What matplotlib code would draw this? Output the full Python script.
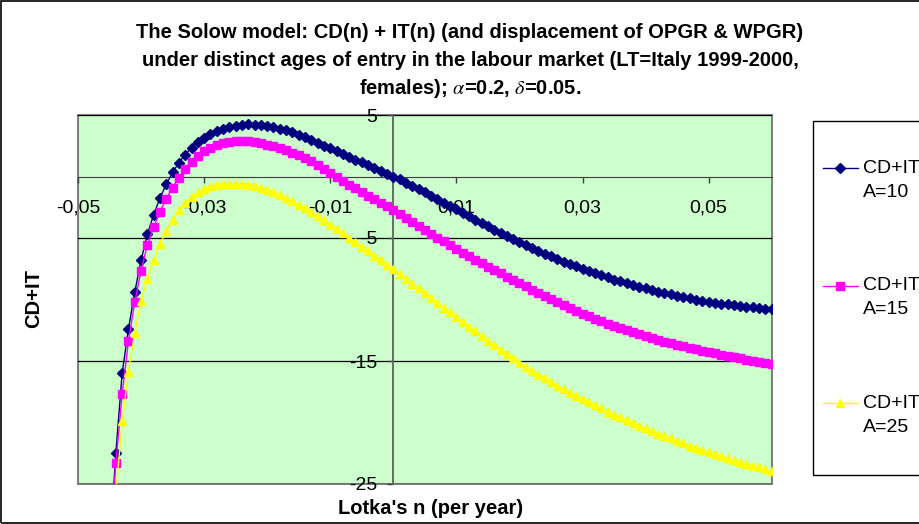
import numpy as np
import matplotlib
matplotlib.use("Agg")
import matplotlib.pyplot as plt
from matplotlib.lines import Line2D
from matplotlib.patches import Rectangle

plt.rcParams['font.family'] = ['Liberation Sans', 'DejaVu Sans']
plt.rcParams['mathtext.fontset'] = 'stix'

# Lotka's n grid (per year), step 0.001
lotka_n = np.round(np.arange(-45, 61) * 0.001, 3)

# CD+IT, age of entry A=10
cd_it_a10 = [
    -30.5, -22.5, -16.0, -12.4, -9.4, -6.8, -4.7, -3.1, -1.75, -0.62,
    0.33, 1.12, 1.78, 2.33, 2.78, 3.15, 3.45, 3.70, 3.89, 4.04,
    4.14, 4.20, 4.23, 4.21, 4.17, 4.10, 4.01, 3.89, 3.75, 3.58,
    3.39, 3.19, 2.97, 2.75, 2.52, 2.29, 2.06, 1.83, 1.60, 1.37,
    1.14, 0.91, 0.68, 0.45, 0.22, 0.00,
    -0.24, -0.49, -0.75, -1.02, -1.29, -1.56, -1.84, -2.12, -2.40, -2.68,
    -2.96, -3.24, -3.51, -3.78, -4.05, -4.31, -4.57, -4.82, -5.06, -5.30,
    -5.55, -5.79, -6.03, -6.27, -6.50, -6.71, -6.92, -7.12, -7.31, -7.50,
    -7.69, -7.87, -8.04, -8.21, -8.38, -8.53, -8.68, -8.83, -8.97, -9.10,
    -9.23, -9.36, -9.48, -9.59, -9.70, -9.80, -9.90, -10.00, -10.09, -10.18,
    -10.26, -10.33, -10.40, -10.47, -10.53, -10.59, -10.65, -10.70, -10.75, -10.80,
]

# CD+IT, A=15
cd_it_a15 = [
    -31.0, -23.3, -17.7, -13.4, -10.2, -7.66, -5.55, -4.10, -2.85, -1.80,
    -0.90, -0.12, 0.60, 1.20, 1.68, 2.05, 2.33, 2.54, 2.69, 2.79,
    2.85, 2.87, 2.85, 2.79, 2.70, 2.59, 2.46, 2.31, 2.14, 1.95,
    1.73, 1.49, 1.22, 0.92, 0.60, 0.27, -0.05, -0.36, -0.67, -0.97,
    -1.27, -1.56, -1.85, -2.14, -2.43, -2.72,
    -3.04, -3.36, -3.68, -4.00, -4.32, -4.64, -4.96, -5.27, -5.58, -5.88,
    -6.18, -6.48, -6.77, -7.05, -7.33, -7.61, -7.88, -8.15, -8.42, -8.68,
    -8.94, -9.20, -9.46, -9.72, -9.97, -10.21, -10.45, -10.69, -10.92, -11.14,
    -11.35, -11.56, -11.76, -11.96, -12.15, -12.33, -12.51, -12.68, -12.84, -13.00,
    -13.15, -13.29, -13.43, -13.56, -13.69, -13.81, -13.93, -14.05, -14.17, -14.28,
    -14.39, -14.50, -14.60, -14.70, -14.79, -14.88, -14.97, -15.06, -15.14, -15.22,
]

# CD+IT, A=25
cd_it_a25 = [
    -36.0, -25.8, -19.9, -15.9, -12.7, -10.1, -8.3, -6.8, -5.5, -4.4,
    -3.5, -2.75, -2.15, -1.65, -1.28, -1.00, -0.80, -0.68, -0.62, -0.59,
    -0.58, -0.60, -0.66, -0.76, -0.90, -1.07, -1.27, -1.50, -1.75, -2.02,
    -2.30, -2.60, -2.91, -3.23, -3.57, -3.92, -4.27, -4.63, -4.99, -5.35,
    -5.71, -6.07, -6.43, -6.80, -7.17, -7.54,
    -7.93, -8.32, -8.71, -9.10, -9.49, -9.88, -10.27, -10.66, -11.05, -11.44,
    -11.83, -12.22, -12.60, -12.98, -13.35, -13.72, -14.08, -14.44, -14.79, -15.13,
    -15.46, -15.78, -16.10, -16.41, -16.71, -17.00, -17.29, -17.57, -17.84, -18.10,
    -18.36, -18.61, -18.86, -19.11, -19.35, -19.58, -19.81, -20.04, -20.26, -20.48,
    -20.69, -20.90, -21.10, -21.30, -21.50, -21.69, -21.88, -22.06, -22.24, -22.42,
    -22.59, -22.75, -22.91, -23.07, -23.22, -23.37, -23.51, -23.65, -23.79, -23.92,
]

series_labels = ['CD+IT\nA=10', 'CD+IT\nA=15', 'CD+IT\nA=25']
x_ticks = [-0.05, -0.03, -0.01, 0.01, 0.03, 0.05]
x_ticklabels = ['-0,05', '-0,03', '-0,01', '0,01', '0,03', '0,05']
y_ticks = [5, -5, -15, -25]
y_ticklabels = ['5', '-5', '-15', '-25']
title_lines = [
    "The Solow model: CD(n) + IT(n) (and displacement of OPGR & WPGR)",
    "under distinct ages of entry in the labour market (LT=Italy 1999-2000,",
    r"females); $\alpha$=0.2, $\delta$=0.05.",
]

styles = [
    dict(color='#000080', marker='D', ms=4.6),
    dict(color='#FF00FF', marker='s', ms=5.4),
    dict(color='#FFFF00', marker='^', ms=6.0),
]

W, H = 920, 524
fig = plt.figure(figsize=(W / 100, H / 100), dpi=100)

def fx(px):
    return px / W

def fy(py):
    return 1 - py / H

ax = fig.add_axes([fx(78), fy(484), fx(771.7) - fx(78), fy(115) - fy(484)])
ax.set_facecolor('#CCFFCC')
ax.patch.set_edgecolor('#808080')
ax.patch.set_linewidth(1.5)

for ys, st in zip([cd_it_a10, cd_it_a15, cd_it_a25], styles):
    ax.plot(lotka_n, ys, color=st['color'], lw=1.0, marker=st['marker'],
            ms=st['ms'], mec=st['color'], mfc=st['color'], zorder=3)

ax.set_xlim(-0.05, 0.06)
ax.set_ylim(-25, 5)

for side in ['top', 'right']:
    ax.spines[side].set_visible(False)
ax.spines['bottom'].set_position(('data', 0))
ax.spines['left'].set_position(('data', 0))
ax.spines['bottom'].set_color('#404040')
ax.spines['left'].set_color('#606060')
ax.spines['left'].set_linewidth(1.3)

ax.set_xticks(x_ticks)
ax.set_xticklabels(x_ticklabels)
ax.set_yticks(y_ticks)
ax.set_yticklabels(y_ticklabels)
ax.tick_params(axis='x', direction='out', length=4.5, width=1, pad=12.4,
               labelsize=14, color='#404040')
ax.tick_params(axis='y', direction='out', length=4.5, width=1, pad=7,
               labelsize=14, color='#404040')
ax.yaxis.grid(True, color='black', lw=0.9)
ax.set_axisbelow(True)

# axis titles
fig.text(fx(34), fy(299), 'CD+IT', rotation=90, ha='center', va='center',
         fontsize=14.5, fontweight='bold')
fig.text(fx(431), fy(508), "Lotka's n (per year)", ha='center', va='center',
         fontsize=14.5, fontweight='bold')

# title
for line, ypx in zip(title_lines, [32, 60, 88]):
    fig.text(fx(470), fy(ypx), line, ha='center', va='center',
             fontsize=14.5, fontweight='bold')

# legend box (cut at right edge as in the original)
fig.add_artist(Rectangle((fx(812.7), fy(475)), 0.2, fy(120.7) - fy(475),
                         transform=fig.transFigure, facecolor='white',
                         edgecolor='black', lw=1.0))
for lab, st, ypx in zip(series_labels, styles, [168.3, 285.7, 403]):
    fig.add_artist(Line2D([fx(823), fx(858)], [fy(ypx), fy(ypx)],
                          transform=fig.transFigure, color=st['color'], lw=1.0))
    fig.add_artist(Line2D([fx(840)], [fy(ypx)], transform=fig.transFigure,
                          color=st['color'], marker=st['marker'], ms=st['ms'],
                          ls='none'))
    top, bottom = lab.split('\n')
    fig.text(fx(863), fy(ypx), top, ha='left', va='center', fontsize=14)
    fig.text(fx(863), fy(ypx + 24), bottom, ha='left', va='center', fontsize=14)

# outer chart border
fig.add_artist(Rectangle((0.001, 0.002), 1.2, 0.996, transform=fig.transFigure,
                         facecolor='none', edgecolor='black', lw=1.2))

fig.savefig('out.png', dpi=100)
